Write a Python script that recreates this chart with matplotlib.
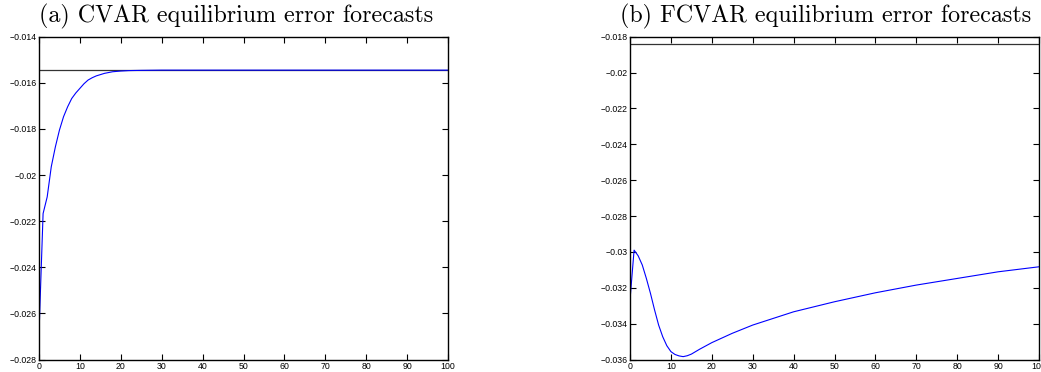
import matplotlib
matplotlib.use("Agg")
import matplotlib.pyplot as plt

# Panel (a): CVAR equilibrium error forecasts
cvar_x = [0, 1, 2, 3, 4, 5, 6, 7, 8, 9, 10, 11, 12, 13, 14, 16, 18, 20, 22, 25, 30, 40, 60, 80, 100]
cvar_y = [-0.02688, -0.02167, -0.02095, -0.01964, -0.01878, -0.01805, -0.01747, -0.01704,
          -0.01668, -0.01644, -0.01624, -0.01604, -0.01588, -0.01578, -0.01570, -0.01559,
          -0.01552, -0.01549, -0.01547, -0.01546, -0.01545, -0.01545, -0.01545, -0.01545, -0.01545]
cvar_level = -0.01545

# Panel (b): FCVAR equilibrium error forecasts
fcvar_x = [0, 1, 2, 3, 4, 5, 6, 7, 8, 9, 10, 11, 12, 13, 14, 15, 17, 20, 25, 30, 40, 50, 60, 70, 80, 90, 100]
fcvar_y = [-0.03268, -0.02990, -0.03022, -0.03073, -0.03148, -0.03231, -0.03323, -0.03408,
           -0.03473, -0.03523, -0.03556, -0.03572, -0.03580, -0.03584, -0.03579, -0.03570,
           -0.03543, -0.03506, -0.03454, -0.03408, -0.03334, -0.03278, -0.03228, -0.03185,
           -0.03148, -0.03111, -0.03083]
fcvar_level = -0.01843

titles = ["(a) CVAR equilibrium error forecasts", "(b) FCVAR equilibrium error forecasts"]
xticks = [0, 10, 20, 30, 40, 50, 60, 70, 80, 90, 100]
a_yticks = [-0.028, -0.026, -0.024, -0.022, -0.02, -0.018, -0.016, -0.014]
b_yticks = [-0.036, -0.034, -0.032, -0.03, -0.028, -0.026, -0.024, -0.022, -0.02, -0.018]

W, H = 1041, 372
fig = plt.figure(figsize=(W / 100, H / 100), dpi=100)

def fmt(v):
    s = ("%g" % v).replace("-", "\u2212")
    return s

def setup(ax, yticks, ylim):
    ax.set_xlim(0, 100)
    ax.set_ylim(*ylim)
    ax.set_xticks(xticks)
    ax.set_xticklabels([str(t) for t in xticks])
    ax.set_yticks(yticks)
    ax.set_yticklabels([fmt(t) for t in yticks])
    ax.tick_params(direction="in", top=True, right=True, length=4, width=0.8,
                   labelsize=6.3, pad=1.5)
    for lab in ax.get_xticklabels() + ax.get_yticklabels():
        lab.set_fontfamily(["Liberation Sans", "DejaVu Sans"])
    for s in ax.spines.values():
        s.set_linewidth(1.0)

ax1 = fig.add_axes([39 / W, 1 - 359.5 / H, (448 - 39) / W, (359.5 - 36.7) / H])
ax1.axhline(cvar_level, color="#333333", lw=0.9)
ax1.plot(cvar_x, cvar_y, color="#0000ff", lw=0.8)
setup(ax1, a_yticks, (-0.028, -0.014))

ax2 = fig.add_axes([630 / W, 1 - 359.5 / H, (1039 - 630) / W, (359.5 - 36.7) / H])
ax2.axhline(fcvar_level, color="#333333", lw=0.9)
ax2.plot(fcvar_x, fcvar_y, color="#0000ff", lw=0.8)
setup(ax2, b_yticks, (-0.036, -0.018))

fig.text(236 / W, 1 - 16 / H, titles[0], ha="center", va="center",
         fontfamily="cmr10", fontsize=17.3)
fig.text(826 / W, 1 - 16 / H, titles[1], ha="center", va="center",
         fontfamily="cmr10", fontsize=17.3)

fig.savefig("out.png", dpi=100)
